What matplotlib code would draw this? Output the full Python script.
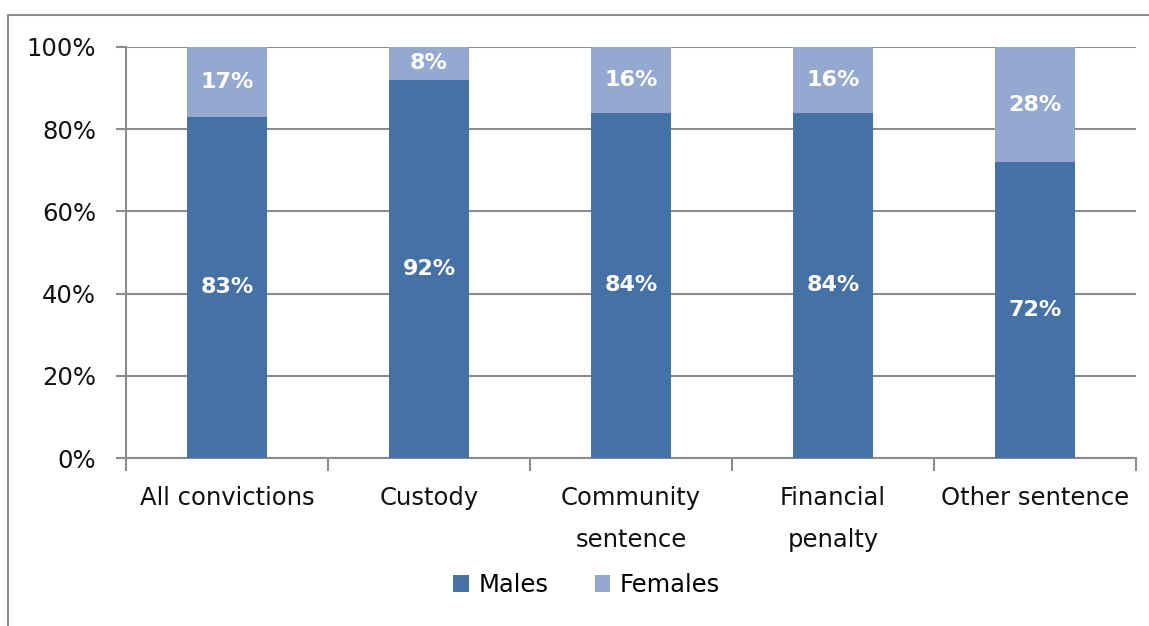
import matplotlib.pyplot as plt
import numpy as np
from matplotlib.lines import Line2D

plt.rcParams['font.family'] = ['DejaVu Sans']

# sentencing outcome categories and share by sex (%)
categories = ['All convictions', 'Custody', 'Community\nsentence', 'Financial\npenalty', 'Other sentence']
males = [83, 92, 84, 84, 72]
females = [17, 8, 16, 16, 28]

male_col = '#4571A5'
female_col = '#95A9D0'
grid_col = '#8C8C8C'

fig = plt.figure(figsize=(11.49, 6.26), dpi=100)
ax = fig.add_axes([126 / 1149, 1 - 458 / 626, 1010 / 1149, 411 / 626])

x = np.arange(len(categories))
ax.bar(x, males, width=0.4, color=male_col, zorder=3, label='Males')
ax.bar(x, females, width=0.4, bottom=males, color=female_col, zorder=3, label='Females')

for xi, m, f in zip(x, males, females):
    ax.text(xi, m / 2, f'{m}%', ha='center', va='center', color='white',
            fontsize=16, fontweight='bold', zorder=4)
    ax.text(xi, m + f / 2, f'{f}%', ha='center', va='center', color='white',
            fontsize=16, fontweight='bold', zorder=4)

ax.set_xlim(-0.5, len(categories) - 0.5)
ax.set_ylim(0, 100)
ax.set_yticks(range(0, 101, 20))
ax.set_yticklabels([f'{v}%' for v in range(0, 101, 20)])
ax.yaxis.grid(True, color=grid_col, linewidth=1.5, zorder=0)

ax.set_xticks(x)
ax.set_xticklabels(categories, linespacing=1.95)
ax.set_xticks(np.arange(-0.5, len(categories)), minor=True)
ax.tick_params(axis='x', which='major', length=0, pad=20, labelsize=17.5, colors='#111111')
ax.tick_params(axis='x', which='minor', length=9, width=1.5, color=grid_col)
ax.tick_params(axis='y', length=7.5, width=1.5, color=grid_col, labelsize=17.5,
               labelcolor='#111111', pad=14)

for side in ['top', 'right']:
    ax.spines[side].set_visible(False)
for side in ['left', 'bottom']:
    ax.spines[side].set_color(grid_col)
    ax.spines[side].set_linewidth(1.5)

ax.legend(loc='center', bbox_to_anchor=(0.456, -0.309), ncol=2, frameon=False,
          fontsize=17.5, handlelength=0.65, handleheight=0.65, handletextpad=0.4,
          columnspacing=1.9)

# outer chart frame
fig.add_artist(Line2D([8 / 1149, 8 / 1149, 1.0], [0, 1 - 15 / 626, 1 - 15 / 626],
                      transform=fig.transFigure, color='#8C8C8C', linewidth=1.5))

fig.savefig('out.png', dpi=100)
